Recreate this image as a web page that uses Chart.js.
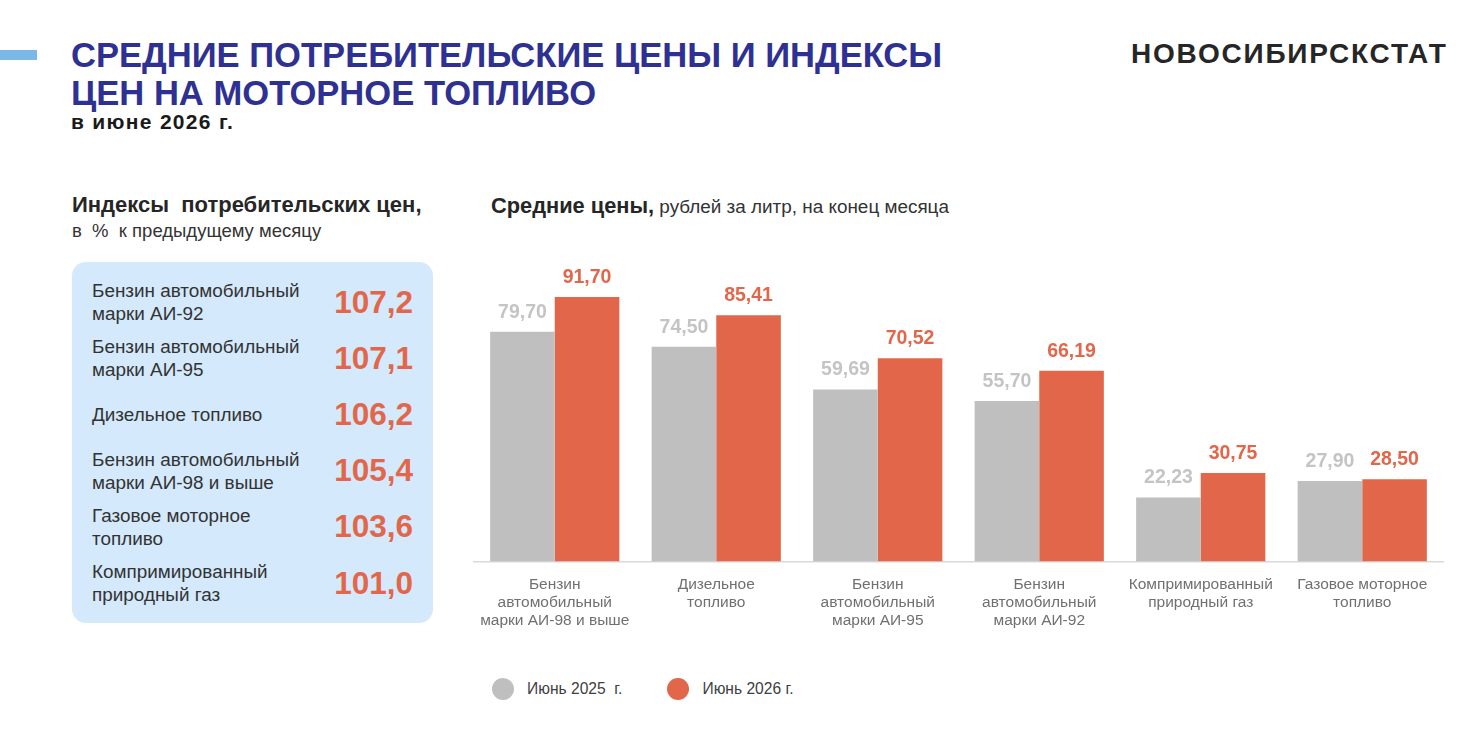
<!DOCTYPE html>
<html lang="ru">
<head>
<meta charset="utf-8">
<title>Средние потребительские цены и индексы цен на моторное топливо</title>
<script src="https://cdn.jsdelivr.net/npm/chart.js@4.4.1/dist/chart.umd.min.js"></script>
<style>
    html, body { margin: 0; padding: 0; background: #fff; }
    body { width: 1483px; height: 751px; position: relative; overflow: hidden; font-family: "Liberation Sans", Arial, sans-serif; }
    .accent { position: absolute; left: 0; top: 50px; width: 37px; height: 10px; background: #7ab8ea; }
    .title { position: absolute; left: 71px; top: 36px; font-weight: bold; font-size: 34.6px; line-height: 38px; color: #2e3191; white-space: nowrap; }
    .subtitle { position: absolute; left: 71px; top: 110px; font-weight: bold; font-size: 21px; letter-spacing: 1.3px; color: #1a1a1a; }
    .brand { position: absolute; left: 1131px; top: 38px; font-weight: bold; font-size: 28px; letter-spacing: 1.8px; color: #262626; }
    .idx-head { position: absolute; left: 72px; top: 192px; font-weight: bold; font-size: 22px; color: #262626; white-space: pre; }
    .idx-sub { position: absolute; left: 72px; top: 220px; font-size: 18.5px; color: #333; white-space: pre; }
    .idx-box { position: absolute; left: 72px; top: 262px; width: 361px; height: 361px; border-radius: 14px; background: #d4e9fb; box-sizing: border-box; padding-top: 12px; }
    .idx-row { height: 56.2px; display: flex; align-items: center; justify-content: space-between; padding: 0 20px 0 20px; }
    .idx-name { font-size: 18.9px; line-height: 23px; color: #333; }
    .idx-val { font-weight: bold; font-size: 31.5px; color: #e2674a; }
    .chart-head { position: absolute; left: 491px; top: 193px; font-size: 18.9px; color: #333; white-space: nowrap; }
    .chart-head b { font-size: 21.8px; color: #262626; }
    .chart-wrap { position: absolute; left: 464px; top: 240px; width: 990px; height: 396px; }
    .legend { position: absolute; left: 492px; top: 678px; height: 22px; display: flex; align-items: center; font-size: 15.6px; color: #404040; }
    .legend span.dot { display: inline-block; width: 22px; height: 22px; border-radius: 50%; margin-right: 13px; }
    .legend span.item { display: flex; align-items: center; margin-right: 45px; white-space: pre; }
</style>
</head>
<body>
<div class="accent"></div>
<div class="title">СРЕДНИЕ ПОТРЕБИТЕЛЬСКИЕ ЦЕНЫ И ИНДЕКСЫ<br>ЦЕН НА МОТОРНОЕ ТОПЛИВО</div>
<div class="subtitle">в июне 2026 г.</div>
<div class="brand">НОВОСИБИРСКСТАТ</div>

<div class="idx-head">Индексы  потребительских цен,</div>
<div class="idx-sub">в  %  к предыдущему месяцу</div>
<div class="idx-box" id="idxBox"></div>

<div class="chart-head"><b>Средние цены,</b> рублей за литр, на конец месяца</div>
<div class="chart-wrap"><canvas id="priceChart"></canvas></div>
<div class="legend" id="legend"></div>

<script>
// Индексы к предыдущему месяцу
const indexNames = [
    ['Бензин автомобильный', 'марки АИ-92'],
    ['Бензин автомобильный', 'марки АИ-95'],
    ['Дизельное топливо'],
    ['Бензин автомобильный', 'марки АИ-98 и выше'],
    ['Газовое моторное', 'топливо'],
    ['Компримированный', 'природный газ']
];
const indexValues = [107.2, 107.1, 106.2, 105.4, 103.6, 101.0];

// Средние цены, руб. за литр
const fuelLabels = [
    ['Бензин', 'автомобильный', 'марки АИ-98 и выше'],
    ['Дизельное', 'топливо'],
    ['Бензин', 'автомобильный', 'марки АИ-95'],
    ['Бензин', 'автомобильный', 'марки АИ-92'],
    ['Компримированный', 'природный газ'],
    ['Газовое моторное', 'топливо']
];
const prices2025 = [79.70, 74.50, 59.69, 55.70, 22.23, 27.90];
const prices2026 = [91.70, 85.41, 70.52, 66.19, 30.75, 28.50];
const seriesNames = ['Июнь 2025  г.', 'Июнь 2026 г.'];

const GRAY = '#bfbfbf';
const ORANGE = '#e2674a';

function fmt(v, digits) {
    return v.toFixed(digits).replace('.', ',');
}

// left panel
const box = document.getElementById('idxBox');
indexNames.forEach((name, i) => {
    const row = document.createElement('div');
    row.className = 'idx-row';
    row.innerHTML = '<div class="idx-name">' + name.join('<br>') + '</div>' +
        '<div class="idx-val">' + fmt(indexValues[i], 1) + '</div>';
    box.appendChild(row);
});

// value labels over bars
const barValues = {
    id: 'barValues',
    afterDatasetsDraw(chart) {
        const ctx = chart.ctx;
        ctx.save();
        ctx.font = 'bold 19.5px "Liberation Sans", Arial, sans-serif';
        ctx.textAlign = 'center';
        ctx.textBaseline = 'alphabetic';
        chart.data.datasets.forEach((ds, di) => {
            const meta = chart.getDatasetMeta(di);
            ctx.fillStyle = ds.labelColor;
            meta.data.forEach((bar, i) => {
                ctx.fillText(fmt(ds.data[i], 2), bar.x, bar.y - 14);
            });
        });
        ctx.restore();
    }
};

const ctx = document.getElementById('priceChart').getContext('2d');
const priceChart = new Chart(ctx, {
    type: 'bar',
    data: {
        labels: fuelLabels,
        datasets: [{
            label: seriesNames[0],
            data: prices2025,
            backgroundColor: GRAY,
            labelColor: '#c4c4c4'
        }, {
            label: seriesNames[1],
            data: prices2026,
            backgroundColor: ORANGE,
            labelColor: ORANGE
        }]
    },
    options: {
        responsive: true,
        maintainAspectRatio: false,
        animation: false,
        categoryPercentage: 0.8,
        barPercentage: 1.0,
        layout: {
            padding: { left: 10, right: 11, top: 10, bottom: 0 }
        },
        plugins: {
            legend: { display: false },
            tooltip: { enabled: false }
        },
        scales: {
            x: {
                grid: { display: false },
                border: { color: '#d9d9d9', width: 1.5 },
                ticks: {
                    color: '#707070',
                    padding: 6,
                    maxRotation: 0,
                    autoSkip: false,
                    font: { size: 15.5, lineHeight: 1.17, family: '"Liberation Sans", Arial, sans-serif' }
                }
            },
            y: {
                display: false,
                min: 0,
                max: 108
            }
        }
    },
    plugins: [barValues]
});

// legend
const legend = document.getElementById('legend');
priceChart.data.datasets.forEach(ds => {
    const item = document.createElement('span');
    item.className = 'item';
    item.innerHTML = '<span class="dot" style="background:' + ds.backgroundColor + '"></span>' + ds.label;
    legend.appendChild(item);
});
</script>
</body>
</html>
